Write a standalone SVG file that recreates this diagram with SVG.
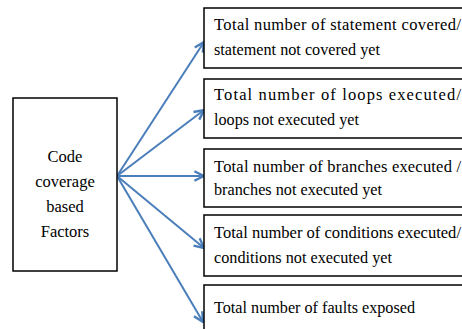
<svg xmlns="http://www.w3.org/2000/svg" width="462" height="329" viewBox="0 0 462 329">
<style>
.box{fill:#fff;stroke:#000;stroke-width:1.5}
.t{font-family:'Liberation Serif','DejaVu Serif','Times New Roman',serif;font-size:16.5px;fill:#000}
.c{text-anchor:middle}
.conn line{stroke:#4a7ebb;stroke-width:2;fill:none}
</style>
<defs>
<marker id="ah" viewBox="0 0 10 10" refX="9" refY="5" markerWidth="6" markerHeight="6" orient="auto" markerUnits="strokeWidth">
<path d="M1,1 L9,5 L1,9" fill="none" stroke="#4a7ebb" stroke-width="2"/>
</marker>
</defs>
<rect width="462" height="329" fill="#fff"/>
<g id="connectors" class="conn">
<line x1="117" y1="176" x2="204" y2="42" marker-end="url(#ah)"/>
<line x1="117" y1="176" x2="204" y2="110" marker-end="url(#ah)"/>
<line x1="117" y1="176" x2="204" y2="176" marker-end="url(#ah)"/>
<line x1="117" y1="176" x2="204" y2="248" marker-end="url(#ah)"/>
<line x1="117" y1="176" x2="203" y2="322" marker-end="url(#ah)"/>
</g>
<g id="source" font-family="Liberation Serif, serif">
<rect class="box" x="13" y="98" width="104" height="173"/>
<text class="t c" x="65" y="162">Code</text>
<text class="t c" x="65" y="187">coverage</text>
<text class="t c" x="65" y="212">based</text>
<text class="t c" x="65" y="237">Factors</text>
</g>
<g id="statements">
<rect class="box" x="204" y="8" width="270" height="60"/>
<text class="t" x="214" y="30" textLength="247" lengthAdjust="spacing">Total number of statement covered/</text>
<text class="t" x="214" y="55" textLength="166" lengthAdjust="spacingAndGlyphs">statement not covered yet</text>
</g>
<g id="loops">
<rect class="box" x="204" y="79" width="270" height="59"/>
<text class="t" x="214" y="100" textLength="247" lengthAdjust="spacing">Total number of loops executed/</text>
<text class="t" x="214" y="125" textLength="145" lengthAdjust="spacingAndGlyphs">loops not executed yet</text>
</g>
<g id="branches">
<rect class="box" x="204" y="149" width="270" height="58"/>
<text class="t" x="214" y="172" textLength="247" lengthAdjust="spacing">Total number of branches executed /</text>
<text class="t" x="214" y="195" textLength="168" lengthAdjust="spacingAndGlyphs">branches not executed yet</text>
</g>
<g id="conditions">
<rect class="box" x="204" y="215" width="270" height="61"/>
<text class="t" x="214" y="238" textLength="247" lengthAdjust="spacingAndGlyphs">Total number of conditions executed/</text>
<text class="t" x="214" y="263" textLength="178" lengthAdjust="spacingAndGlyphs">conditions not executed yet</text>
</g>
<g id="faults">
<rect class="box" x="204" y="285" width="270" height="60"/>
<text class="t" x="214" y="313" textLength="201" lengthAdjust="spacingAndGlyphs">Total number of faults exposed</text>
</g>
</svg>
